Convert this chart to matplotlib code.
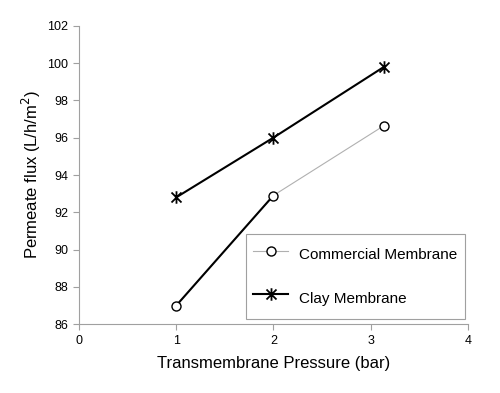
import matplotlib
matplotlib.use("Agg")
import matplotlib.pyplot as plt
from matplotlib.path import Path
from matplotlib.lines import Line2D

plt.rcParams['font.family'] = ['Liberation Sans', 'DejaVu Sans']

pressure = [1, 2, 3.14]
commercial = [87.0, 92.9, 96.65]
clay = [92.8, 96.0, 99.8]

star = Path([(0, -1), (0, 1), (-0.8, -0.8), (0.8, 0.8), (-0.8, 0.8), (0.8, -0.8)],
            [Path.MOVETO, Path.LINETO, Path.MOVETO, Path.LINETO, Path.MOVETO, Path.LINETO])

fig = plt.figure(figsize=(5, 3.93), dpi=100)
ax = fig.add_axes([0.158, 0.1748, 0.7774, 0.7598])

ax.plot(pressure, commercial, color='#b0b0b0', lw=0.8, zorder=2)
ax.plot(pressure[:2], commercial[:2], color='black', lw=1.5, zorder=2)
ax.plot(pressure, commercial, ls='none', marker='o', ms=6.5, mfc='white', mec='black', mew=1.0, zorder=3)
ax.plot(pressure, clay, color='black', lw=1.5, marker=star, ms=9, mec='black', mew=1.3, zorder=3)

ax.set_xlim(0, 4)
ax.set_ylim(86, 102)
ax.set_xticks([0, 1, 2, 3, 4])
ax.set_yticks(range(86, 103, 2))
for s in ['top', 'right']:
    ax.spines[s].set_visible(False)
for s in ['left', 'bottom']:
    ax.spines[s].set_color('#a0a0a0')
    ax.spines[s].set_linewidth(0.8)
ax.tick_params(direction='out', length=4, width=0.8, color='#a0a0a0', labelsize=9, pad=4)

ax.set_xlabel('Transmembrane Pressure (bar)', fontsize=12, labelpad=6)
ax.set_ylabel('Permeate flux (L/h/m$^2$)', fontsize=12, labelpad=3)

h1 = Line2D([], [], color='#b0b0b0', lw=0.8, marker='o', ms=6.5, mfc='white', mec='black', mew=1.0)
h2 = Line2D([], [], color='black', lw=1.5, marker=star, ms=9, mec='black', mew=1.3)
leg = ax.legend([h1, h2], ['Commercial Membrane', 'Clay Membrane'],
                loc='lower right', bbox_to_anchor=(0.993, 0.018), borderaxespad=0, fontsize=11,
                frameon=True, fancybox=False, edgecolor='#a0a0a0', framealpha=1,
                labelspacing=1.2, borderpad=0.5, handlelength=2.3, handleheight=2.2,
                handletextpad=0.7)
leg.get_frame().set_linewidth(0.8)

fig.savefig('out.png', dpi=100)
